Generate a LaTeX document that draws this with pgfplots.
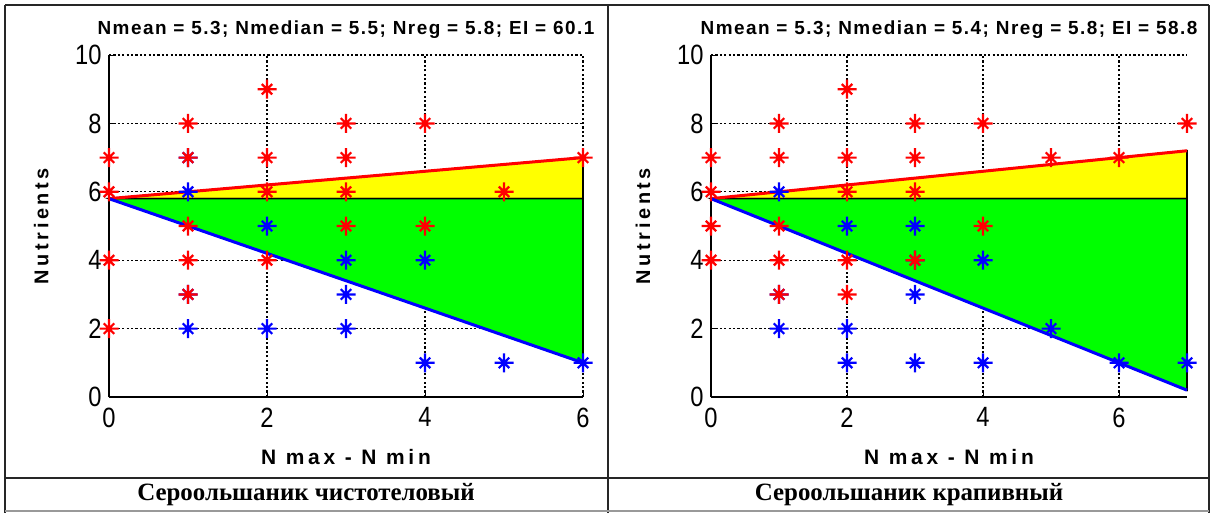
\documentclass[border=0pt]{standalone}
\usepackage{pgfplots}
\pgfplotsset{compat=1.18}
\usepackage{fontspec}
\setmainfont{Liberation Sans}
\newfontfamily\narrow[FakeStretch=0.85]{Liberation Sans}
\newfontfamily\lblfont[LetterSpace=18]{Liberation Sans}
\newfontfamily\ttlfont[LetterSpace=8]{Liberation Sans}
\newfontfamily\capfont{Liberation Serif}
\definecolor{mred}{RGB}{255,0,0}
\definecolor{mblue}{RGB}{0,0,255}
\definecolor{myellow}{RGB}{255,255,0}
\definecolor{mgreen}{RGB}{0,255,0}
\pgfdeclareplotmark{ast8}{%
  \pgfpathmoveto{\pgfqpoint{-\pgfplotmarksize}{0pt}}\pgfpathlineto{\pgfqpoint{\pgfplotmarksize}{0pt}}%
  \pgfpathmoveto{\pgfqpoint{0pt}{-\pgfplotmarksize}}\pgfpathlineto{\pgfqpoint{0pt}{\pgfplotmarksize}}%
  \pgfpathmoveto{\pgfqpoint{-0.55\pgfplotmarksize}{-0.55\pgfplotmarksize}}\pgfpathlineto{\pgfqpoint{0.55\pgfplotmarksize}{0.55\pgfplotmarksize}}%
  \pgfpathmoveto{\pgfqpoint{-0.55\pgfplotmarksize}{0.55\pgfplotmarksize}}\pgfpathlineto{\pgfqpoint{0.55\pgfplotmarksize}{-0.55\pgfplotmarksize}}%
  \pgfusepathqstroke}
\pgfplotsset{
  nplot/.style={
    scale only axis, height=342bp,
    ymin=0, ymax=10, ytick={0,2,...,10}, xtick={0,2,4,6},
    axis lines=left, axis line style={-, line width=2.8bp},
    tick align=inside, major tick length=4bp, tick style={black, line width=1bp},
    grid=major, grid style={black, line width=1.2bp, dash pattern=on 2.2bp off 2.2bp},
    clip=false,
    /pgf/number format/assume math mode=true,
    ticklabel style={font=\narrow\fontsize{28}{28}\selectfont},
    yticklabel style={xshift=-4bp},
    xticklabel style={yshift=-7bp},
    every axis y label/.style={at={(axis description cs:-0.143,0.5)}, rotate=90, anchor=center, font=\lblfont\bfseries\fontsize{20}{20}\selectfont},
    every axis x label/.style={at={(axis description cs:0.5,-0.175)}, anchor=center, font=\lblfont\bfseries\fontsize{21}{21}\selectfont},
    every axis title/.style={at={(axis description cs:0.5,1.075)}, anchor=center, font=\ttlfont\bfseries\fontsize{19}{19}\selectfont},
    xlabel={N max - N min}, ylabel={Nutrients},
  },
  rmark/.style={only marks, mark=ast8, mark size=9.5bp, mark options={draw=mred, line width=2.2bp}},
  bmark/.style={only marks, mark=ast8, mark size=9.5bp, mark options={draw=mblue, line width=2.2bp}},
}
\pgfplotstableread{
x y
0 7
0 6
0 4
0 2
1 8
1 7
1 5
1 4
1 3
2 9
2 7
2 6
2 4
3 8
3 7
3 6
3 5
4 8
4 5
5 6
6 7
}\leftred
\pgfplotstableread{
x y
1 7
1 3
1 6
1 2
2 5
2 2
3 4
3 3
3 2
4 4
4 1
5 1
6 1
}\leftblue
\pgfplotstableread{
x y
0 7
0 6
0 5
0 4
1 8
1 7
1 5
1 4
1 3
2 9
2 7
2 6
2 4
2 3
3 8
3 7
3 6
3 4
4 8
4 5
5 7
6 7
7 8
}\rightred
\pgfplotstableread{
x y
1 6
1 3
1 2
2 5
2 2
2 1
3 5
3 4
3 3
3 1
4 4
4 1
5 2
6 1
7 1
}\rightblue
\begin{document}
\begin{tikzpicture}
\useasboundingbox (0,0) rectangle (1213bp,-513bp);
\fill[white] (0,0) rectangle (1213bp,-513bp);
% left panel
\begin{axis}[nplot, at={(109bp,-397bp)}, anchor=south west, width=474bp,
  xmin=0, xmax=6, title={Nmean = 5.3; Nmedian = 5.5; Nreg = 5.8; EI = 60.1}]
\addplot[fill=myellow, draw=black, line width=1.6bp] coordinates {(0,5.8) (6,7.0) (6,5.8)} -- cycle;
\addplot[fill=mgreen, draw=black, line width=1.6bp] coordinates {(0,5.8) (6,5.8) (6,1.0)} -- cycle;
\addplot[mred, line width=3bp] coordinates {(0,5.8) (6,7.0)};
\addplot[mblue, line width=3bp] coordinates {(0,5.8) (6,1.0)};
\addplot[bmark] table {\leftblue};
\addplot[rmark] table {\leftred};
\end{axis}
% right panel
\begin{axis}[nplot, at={(711bp,-397bp)}, anchor=south west, width=476bp,
  xmin=0, xmax=7, title={Nmean = 5.3; Nmedian = 5.4; Nreg = 5.8; EI = 58.8}]
\addplot[fill=myellow, draw=black, line width=1.6bp] coordinates {(0,5.8) (7,7.2) (7,5.8)} -- cycle;
\addplot[fill=mgreen, draw=black, line width=1.6bp] coordinates {(0,5.8) (7,5.8) (7,0.2)} -- cycle;
\addplot[mred, line width=3bp] coordinates {(0,5.8) (7,7.2)};
\addplot[mblue, line width=3bp] coordinates {(0,5.8) (7,0.2)};
\addplot[bmark] table {\rightblue};
\addplot[rmark] table {\rightred};
\end{axis}
% table frame
\draw[line width=1.2bp, black!85] (5bp,-5bp) -- (1209bp,-5bp);
\draw[line width=1.2bp, black!85] (5bp,-5bp) -- (5bp,-513bp);
\draw[line width=1.2bp, black!85] (608bp,-5bp) -- (608bp,-513bp);
\draw[line width=1.2bp, black!85] (1209bp,-5bp) -- (1209bp,-513bp);
\draw[line width=1.2bp, black!85] (5bp,-478bp) -- (1209bp,-478bp);
\draw[line width=1.2bp, black!40] (5bp,-511bp) -- (1209bp,-511bp);
\node[font=\capfont\bfseries\fontsize{25}{25}\selectfont] at (306bp,-495bp) {Сероольшаник чистотеловый};
\node[font=\capfont\bfseries\fontsize{25}{25}\selectfont] at (909bp,-495bp) {Сероольшаник крапивный};
\end{tikzpicture}
\end{document}
